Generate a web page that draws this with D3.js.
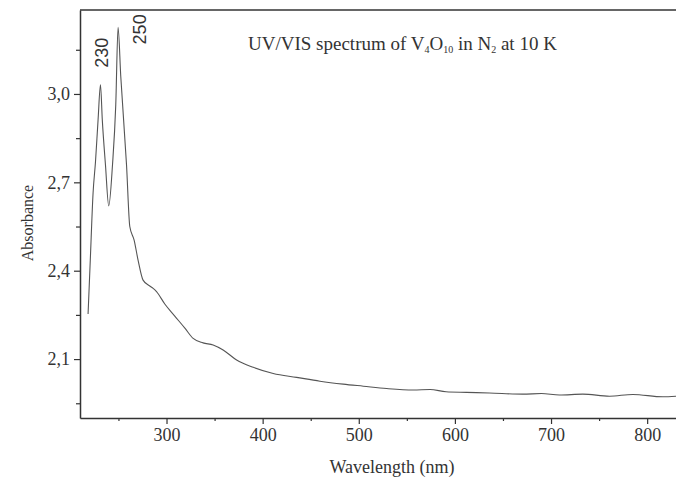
<!DOCTYPE html>
<html>
<head>
<meta charset="utf-8">
<script src="https://cdn.jsdelivr.net/npm/d3@7"></script>
<style>
  html, body { margin: 0; padding: 0; background: #fff; }
  svg { display: block; }
</style>
</head>
<body>
<svg id="chart" width="676" height="481"></svg>
<script>
// Data
const wavelength = [218.4, 220.7, 223.6, 226.1, 228.8, 231.3, 233.2, 236.5, 239.9, 243.8, 247.2, 249.6, 252.4, 258.4, 261.8, 266.3, 270.4, 275.6, 282.6, 286.1, 289.6, 298.2, 308.6, 319.1, 327.7, 338, 348.5, 358.9, 372.9, 390.2, 411.0, 435.3, 459.6, 483.8, 504.7, 529.0, 556.7, 574.1, 590.8, 612, 635.8, 670.6, 690, 708.7, 733.1, 760.8, 785.1, 816.3, 830];
const absorbance = [2.253, 2.436, 2.664, 2.769, 2.912, 3.031, 2.912, 2.759, 2.620, 2.759, 2.963, 3.226, 3.060, 2.759, 2.550, 2.504, 2.436, 2.368, 2.348, 2.340, 2.329, 2.287, 2.246, 2.205, 2.170, 2.155, 2.148, 2.131, 2.097, 2.072, 2.051, 2.038, 2.025, 2.015, 2.008, 2.000, 1.995, 1.997, 1.989, 1.987, 1.985, 1.981, 1.983, 1.978, 1.981, 1.974, 1.980, 1.972, 1.974];
const xMajorTicks = [300, 400, 500, 600, 700, 800];
const xMinorTicks = [250, 350, 450, 550, 650, 750];
const yMajorTicks = [2.1, 2.4, 2.7, 3.0];
const yMinorTicks = [1.95, 2.25, 2.55, 2.85, 3.15];
const peakLabels = ["230", "250"];
const peakWavelengths = [231.3, 249.6];
const peakAbsorbance = [3.031, 3.226];

const svg = d3.select("#chart");
const x = d3.scaleLinear().domain([210, 830]).range([80, 676]);
const y = d3.scaleLinear().domain([1.9, 3.285]).range([418, 10]);
const axisColor = "#333";
const serif = "'Liberation Serif', 'Times New Roman', serif";

// top frame line
svg.append("line")
  .attr("x1", x(210)).attr("x2", x(830))
  .attr("y1", y(3.285)).attr("y2", y(3.285))
  .attr("stroke", axisColor).attr("stroke-width", 1.5);

// x axis
const fmtY = v => d3.format(".1f")(v).replace(".", ",");
const gx = svg.append("g").attr("transform", `translate(0,${y(1.9)})`);
gx.call(d3.axisBottom(x).tickValues(xMajorTicks).tickSize(6).tickPadding(4).tickSizeOuter(0));
const gxm = svg.append("g").attr("transform", `translate(0,${y(1.9)})`);
gxm.call(d3.axisBottom(x).tickValues(xMinorTicks).tickSize(3).tickFormat("").tickSizeOuter(0));
gxm.select(".domain").remove();

// y axis
const gy = svg.append("g").attr("transform", `translate(${x(210)},0)`);
gy.call(d3.axisLeft(y).tickValues(yMajorTicks).tickFormat(fmtY).tickSize(6).tickPadding(4).tickSizeOuter(0));
const gym = svg.append("g").attr("transform", `translate(${x(210)},0)`);
gym.call(d3.axisLeft(y).tickValues(yMinorTicks).tickSize(4).tickFormat("").tickSizeOuter(0));
gym.select(".domain").remove();

svg.selectAll(".domain").attr("stroke", axisColor).attr("stroke-width", 1.5);
svg.selectAll(".tick line").attr("stroke", axisColor).attr("stroke-width", 1.2);
svg.selectAll(".tick text")
  .attr("fill", "#333")
  .style("font-family", serif)
  .style("font-size", "18px");

// spectrum line
const pts = wavelength.map((w, i) => [w, absorbance[i]]);
const line = d3.line().x(d => x(d[0])).y(d => y(d[1])).curve(d3.curveMonotoneX);
svg.append("path")
  .datum(pts)
  .attr("d", line)
  .attr("fill", "none")
  .attr("stroke", "#555")
  .attr("stroke-width", 1.1);

// peak labels (rotated)
const peakOffsets = [[7.5, -32], [27.5, 2]];
peakLabels.forEach((t, i) => {
  const px = x(peakWavelengths[i]) + peakOffsets[i][0];
  const py = y(peakAbsorbance[i]) + peakOffsets[i][1];
  svg.append("text")
    .attr("transform", `translate(${px},${py}) rotate(-90)`)
    .attr("text-anchor", "middle")
    .attr("fill", "#333")
    .style("font-family", "'Liberation Sans', Arial, sans-serif")
    .style("font-size", "18px")
    .text(t);
});

// title with subscripts
const title = svg.append("text")
  .attr("x", 248).attr("y", 50)
  .attr("fill", "#333")
  .style("font-family", serif)
  .style("font-size", "19px");
const parts = [["UV/VIS spectrum of V", false], ["4", true], ["O", false], ["10", true], [" in N", false], ["2", true], [" at 10 K", false]];
parts.forEach(([s, sub]) => {
  const ts = title.append("tspan").text(s);
  if (sub) ts.attr("baseline-shift", "-25%").style("font-size", "10px");
});

// axis titles
svg.append("text")
  .attr("x", 392).attr("y", 473)
  .attr("text-anchor", "middle")
  .attr("fill", "#333")
  .style("font-family", serif)
  .style("font-size", "18px")
  .text("Wavelength (nm)");
svg.append("text")
  .attr("transform", `translate(33,223) rotate(-90)`)
  .attr("text-anchor", "middle")
  .attr("fill", "#333")
  .style("font-family", serif)
  .style("font-size", "16px")
  .text("Absorbance");
</script>
</body>
</html>
